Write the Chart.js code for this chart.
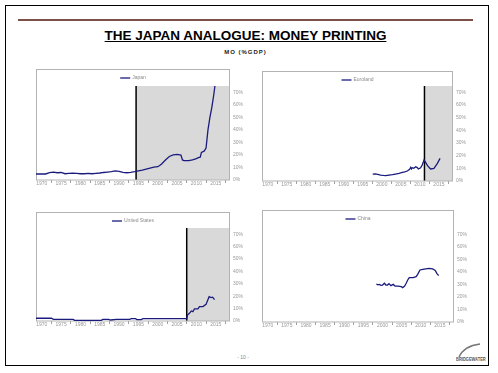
<!DOCTYPE html>
<html lang="en">
<head>
<meta charset="UTF-8">
<title>The Japan Analogue: Money Printing</title>
<script src="https://cdn.jsdelivr.net/npm/chart.js"></script>
<style>
  body { margin: 0; background: #fff; font-family: "Liberation Sans", Arial, sans-serif; }
  #page { position: relative; width: 498px; height: 373px; overflow: hidden; }
  #frame { position: absolute; left: 5px; top: 5px; width: 484px; height: 361px; box-sizing: border-box; border: 1px solid #000; }
  #rule { position: absolute; left: 18px; top: 19px; width: 455px; height: 2px; background: #7a5048; }
  #title { position: absolute; left: 0; top: 28px; width: 491px; text-align: center; font-weight: bold; font-size: 13.5px; letter-spacing: 0; text-decoration: underline; color: #000; }
  #subtitle { position: absolute; left: 0; top: 49px; width: 491px; text-align: center; font-weight: bold; font-size: 6px; letter-spacing: 1px; color: #222; }
  .panel { position: absolute; }
  #pageNum { position: absolute; left: 220px; top: 354px; width: 46px; text-align: center; font-size: 5px; color: #888; }
  #logo { position: absolute; left: 456px; top: 342px; width: 32px; height: 22px; }
  #logo span { position: absolute; left: 0; top: 14px; font-size: 5px; font-weight: bold; color: #555; white-space: nowrap; transform: scaleX(0.8); transform-origin: left top; }
</style>
</head>
<body>
<div id="page">
  <div id="frame"></div>
  <div id="rule"></div>
  <div id="title">THE JAPAN ANALOGUE: MONEY PRINTING</div>
  <div id="subtitle">MO (%GDP)</div>
  <canvas id="japanChart" class="panel"></canvas>
  <canvas id="euroChart" class="panel"></canvas>
  <canvas id="usChart" class="panel"></canvas>
  <canvas id="chinaChart" class="panel"></canvas>
  <div id="pageNum">- 10 -</div>
  <div id="logo">
    <svg width="32" height="16"><path d="M3 15 Q 8 4 24 2" stroke="#777" stroke-width="1.4" fill="none"/></svg>
    <span>BRIDGEWATER</span>
  </div>
</div>

<script>
// axis labels
const tickYears = [1970, 1975, 1980, 1985, 1990, 1995, 2000, 2005, 2010, 2015];
const tickLabels = ['1970', '1975', '1980', '1985', '1990', '1995', '2000', '2005', '2010', '2015'];
const yTicks = [0, 10, 20, 30, 40, 50, 60, 70];

// M0 as % of GDP
const japanYears = [1968.5, 1970, 1971, 1972, 1972.5, 1973, 1974, 1975, 1976, 1977, 1978, 1979, 1980, 1981, 1982, 1983, 1984, 1985, 1986, 1987, 1988, 1989, 1990, 1991, 1992, 1993, 1994, 1995, 1996, 1997, 1998, 1999, 2000, 2000.5, 2001, 2002, 2003, 2004, 2005, 2006, 2006.4, 2006.8, 2007, 2008, 2009, 2010, 2010.5, 2011, 2011.3, 2012, 2012.5, 2013, 2013.5, 2014, 2014.5, 2014.8];
const japanValues = [4.8, 4.8, 4.8, 5.8, 6.1, 6.3, 5.8, 6.0, 5.0, 5.3, 5.5, 5.3, 5.0, 5.0, 5.3, 5.0, 5.3, 5.6, 6.0, 6.3, 6.6, 7.2, 6.8, 6.0, 5.8, 6.1, 6.6, 7.2, 7.8, 8.6, 9.4, 10.2, 10.6, 11.6, 12.8, 16.0, 18.8, 20.0, 20.4, 19.9, 16.0, 15.4, 15.4, 15.4, 16.0, 17.0, 17.8, 18.2, 22.0, 23.0, 25.5, 40, 50, 58, 68, 75];

const euroYears = [1997.6, 1998.3, 1998.9, 1999.7, 2000.4, 2001.0, 2001.9, 2002.8, 2003.6, 2004.5, 2005.4, 2006.0, 2006.7, 2007.3, 2007.6, 2007.8, 2008.0, 2008.4, 2008.9, 2009.3, 2009.6, 2010.2, 2010.6, 2011.1, 2011.5, 2012.0, 2012.8, 2013.7, 2014.6, 2015.3];
const euroValues = [5.5, 5.6, 5.3, 4.7, 4.4, 4.2, 4.7, 5.0, 5.5, 6.1, 6.8, 7.2, 7.9, 9.2, 10.8, 9.6, 10.5, 10.0, 11.3, 10.6, 9.5, 10.5, 12.6, 16.6, 14.7, 12.1, 9.5, 10.0, 13.9, 17.9];

const usYears = [1968.5, 1972.5, 1973, 1978.1, 1978.5, 1985.4, 1985.8, 1987.3, 1987.8, 1989.3, 1992.7, 1993.2, 1994.3, 1994.6, 1995.7, 1996.2, 2007.5, 2007.7, 2008.2, 2008.7, 2009.1, 2009.5, 2010.4, 2010.8, 2011.7, 2012.5, 2012.9, 2013.3, 2013.8, 2014.2, 2014.7];
const usValues = [2.2, 2.2, 1.3, 1.3, 0.5, 0.5, 1.3, 1.3, 0.8, 1.3, 1.3, 1.9, 1.9, 1.1, 1.1, 1.9, 1.9, 4.8, 6.2, 8.1, 7.5, 9.7, 9.7, 11.6, 11.6, 13.4, 16.5, 19.6, 18.9, 19.2, 17.3];

const chinaYears = [1998.4, 1998.8, 1999.2, 1999.6, 2000.0, 2000.5, 2000.9, 2001.3, 2001.7, 2002.2, 2002.8, 2003.3, 2004.1, 2004.9, 2005.3, 2005.8, 2006.2, 2006.6, 2007.0, 2008.0, 2008.8, 2009.2, 2009.8, 2010.5, 2012.2, 2013.1, 2013.8, 2014.2, 2014.7];
const chinaValues = [30.3, 29.6, 30.0, 29.3, 29.5, 30.9, 29.5, 29.5, 30.6, 29.0, 30.0, 28.7, 28.7, 28.2, 27.4, 28.7, 30.9, 33.5, 35.4, 35.4, 36.2, 38.0, 41.5, 42.0, 42.8, 42.3, 41.2, 38.8, 37.0];

// start of money printing in each economy
const japanCut = 1994.4;
const euroCut = 2011.2;
const usCut = 2007.5;

const LINE_COLOR = '#1b1b7e';
Chart.defaults.font.family = '"Liberation Sans", Arial, sans-serif';

// frame, shaded period, cut line and legend for each panel
const panelPlugin = {
    id: 'panel',
    beforeDatasetsDraw(chart, args, opts) {
        const ctx = chart.ctx;
        const a = chart.chartArea;
        ctx.save();
        if (opts.cut) {
            const x = chart.scales.x.getPixelForValue(opts.cut);
            ctx.fillStyle = '#d9d9d9';
            ctx.fillRect(x, a.top, a.right - x, a.bottom - a.top);
            ctx.strokeStyle = '#000';
            ctx.lineWidth = 1.5;
            ctx.beginPath();
            ctx.moveTo(x, a.top);
            ctx.lineTo(x, a.bottom);
            ctx.stroke();
        }
        ctx.strokeStyle = '#b3b3b3';
        ctx.lineWidth = 1;
        ctx.strokeRect(a.left + 0.5, 0.5, a.right - a.left - 1, a.bottom - 0.5);

        // legend
        ctx.font = '5px "Liberation Sans", Arial, sans-serif';
        const label = chart.data.datasets[0].label;
        const w = 10 + 2 + ctx.measureText(label).width;
        const lx = (a.left + a.right) / 2 - w / 2;
        const ly = opts.legendY;
        ctx.strokeStyle = LINE_COLOR;
        ctx.lineWidth = 1.3;
        ctx.beginPath();
        ctx.moveTo(lx, ly);
        ctx.lineTo(lx + 10, ly);
        ctx.stroke();
        ctx.fillStyle = '#8a8a8a';
        ctx.textBaseline = 'middle';
        ctx.fillText(label, lx + 12, ly);
        ctx.restore();
    }
};

function makePanel(id, label, years, values, cut, box) {
    const canvas = document.getElementById(id);
    const width = box.right - box.left + 26;
    const height = box.bottom - box.boxTop + 11;
    canvas.width = width;
    canvas.height = height;
    canvas.style.left = box.left + 'px';
    canvas.style.top = box.boxTop + 'px';

    // major ticks carry labels, minor ticks between them carry the marks
    const xTicks = [];
    tickYears.forEach(y => { xTicks.push(y); xTicks.push(y + 2.5); });

    new Chart(canvas, {
        type: 'line',
        data: {
            datasets: [{
                label: label,
                data: years.map((y, i) => ({ x: y, y: values[i] })),
                borderColor: LINE_COLOR,
                backgroundColor: LINE_COLOR,
                borderWidth: 1.3,
                pointRadius: 0,
                tension: 0
            }]
        },
        options: {
            responsive: false,
            animation: false,
            devicePixelRatio: 1,
            layout: { autoPadding: false, padding: { top: box.top - box.boxTop, left: 0, right: 0, bottom: 0 } },
            plugins: {
                legend: { display: false },
                tooltip: { enabled: false },
                panel: { cut: cut, legendY: 9 }
            },
            scales: {
                x: {
                    type: 'linear',
                    min: 1968.5,
                    max: 2018.7,
                    afterBuildTicks: scale => { scale.ticks = xTicks.map(v => ({ value: v })); },
                    afterFit: scale => { scale.height = 11; },
                    border: { display: false },
                    grid: {
                        drawOnChartArea: false,
                        drawTicks: true,
                        tickLength: 3,
                        color: ctx => (ctx.index % 2 ? '#a0a0a0' : 'rgba(0,0,0,0)')
                    },
                    ticks: {
                        autoSkip: false,
                        maxRotation: 0,
                        padding: -2,
                        font: { size: 5 },
                        color: '#999',
                        callback: (v, i) => (i % 2 ? '' : tickLabels[i / 2])
                    }
                },
                y: {
                    position: 'right',
                    min: 0,
                    max: 75,
                    afterBuildTicks: scale => { scale.ticks = yTicks.map(v => ({ value: v })); },
                    afterFit: scale => { scale.width = 26; },
                    border: { display: false },
                    grid: { display: false, drawTicks: false },
                    ticks: {
                        padding: 3,
                        font: { size: 5 },
                        color: '#999',
                        callback: v => v + '%'
                    }
                }
            }
        },
        plugins: [panelPlugin]
    });
}

makePanel('japanChart', 'Japan', japanYears, japanValues, japanCut, { left: 36, right: 230, boxTop: 69, top: 86, bottom: 180 });
makePanel('euroChart', 'Euroland', euroYears, euroValues, euroCut, { left: 262, right: 453, boxTop: 71, top: 86, bottom: 181 });
makePanel('usChart', 'United States', usYears, usValues, usCut, { left: 36, right: 230, boxTop: 212, top: 228, bottom: 321 });
makePanel('chinaChart', 'China', chinaYears, chinaValues, null, { left: 262, right: 454, boxTop: 210, top: 228, bottom: 322 });
</script>
</body>
</html>
